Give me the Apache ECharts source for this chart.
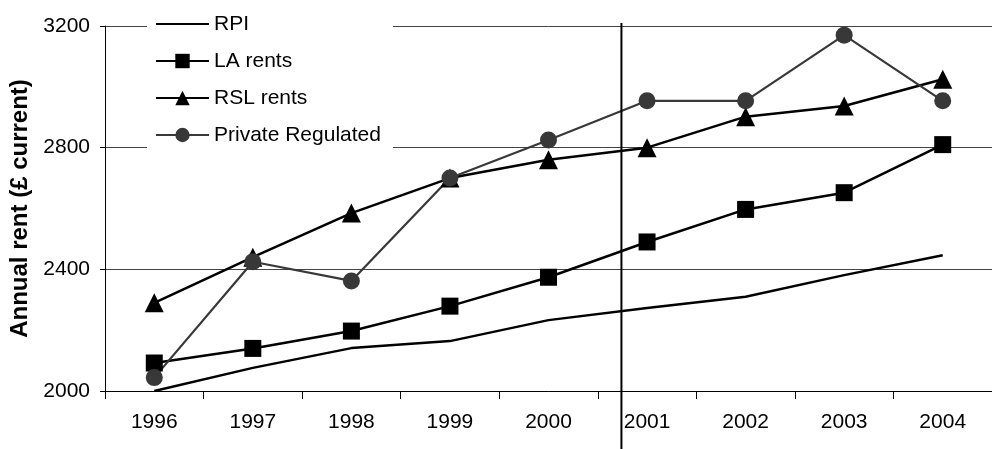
<!DOCTYPE html>
<html>
<head>
<meta charset="utf-8">
<script src="https://cdn.jsdelivr.net/npm/echarts@6/dist/echarts.min.js"></script>
<style>
  html, body { margin: 0; padding: 0; background: #fff; }
  #chart { width: 992px; height: 449px; }
</style>
</head>
<body>
<div id="chart"></div>
<script>
// Annual rents by sector versus RPI, 1996-2004 (£ current)
const years = ['1996', '1997', '1998', '1999', '2000', '2001', '2002', '2003', '2004'];
const rpi = [2000, 2076, 2141, 2164, 2233, 2273, 2310, 2381, 2446];
const laRents = [2092, 2140, 2197, 2279, 2374, 2490, 2597, 2652, 2810];
const rslRents = [2290, 2440, 2585, 2700, 2760, 2800, 2902, 2937, 3025];
const privateRegulated = [2044, 2425, 2362, 2700, 2825, 2954, 2954, 3170, 2954];
const yTicks = { min: 2000, max: 3200, step: 400 };
// position (in category widths from the left edge) of the vertical divider
const dividerPos = 5.24;

const font = '"Liberation Sans", Arial, sans-serif';
const chart = echarts.init(document.getElementById('chart'));

function lineSeries(name, data, symbol, color, width) {
  return {
    name: name,
    type: 'line',
    data: data,
    symbol: symbol,
    symbolSize: symbol === 'triangle' ? [19, 19] : 17,
    lineStyle: { color: color, width: width },
    itemStyle: { color: color },
    emphasis: { disabled: true },
    animation: false,
    z: 3
  };
}

chart.setOption({
  backgroundColor: '#fff',
  animation: false,
  grid: { left: 105, right: -9.4, top: 26, bottom: 58, containLabel: false },
  legend: {
    orient: 'vertical',
    left: 147,
    top: 6,
    padding: [6, 12, 12, 8],
    backgroundColor: '#fff',
    itemWidth: 53,
    itemHeight: 18,
    itemGap: 13,
    z: 10,
    textStyle: { fontFamily: font, fontSize: 21, color: '#000', lineHeight: 24 },
    data: [
      { name: 'RPI', itemStyle: { opacity: 0 } },
      'LA rents',
      'RSL rents',
      'Private Regulated'
    ]
  },
  xAxis: [{
    type: 'category',
    data: years,
    boundaryGap: true,
    axisLine: { lineStyle: { color: '#000', width: 1 } },
    axisTick: { show: true, length: 8, alignWithLabel: false, lineStyle: { color: '#000' } },
    axisLabel: { fontFamily: font, fontSize: 21, color: '#000', margin: 21 },
    splitLine: { show: false }
  }, {
    type: 'value',
    min: 0,
    max: years.length,
    show: false
  }],
  yAxis: {
    type: 'value',
    min: yTicks.min,
    max: yTicks.max,
    interval: yTicks.step,
    name: 'Annual rent (£ current)',
    nameLocation: 'middle',
    nameGap: 72,
    nameTextStyle: { fontFamily: font, fontSize: 24, fontWeight: 'bold', color: '#000' },
    axisLine: { show: true, lineStyle: { color: '#000', width: 1 } },
    axisTick: { show: true, length: 5, lineStyle: { color: '#000' } },
    axisLabel: {
      fontFamily: font, fontSize: 21, color: '#000', margin: 15,
      formatter: function (v) { return String(v); }
    },
    splitLine: { show: true, lineStyle: { color: '#444', width: 1 } }
  },
  series: [
    lineSeries('RPI', rpi, 'none', '#000', 2.5),
    lineSeries('LA rents', laRents, 'rect', '#000', 2.5),
    lineSeries('RSL rents', rslRents, 'triangle', '#000', 2.5),
    lineSeries('Private Regulated', privateRegulated, 'circle', '#383838', 2.2)
  ]
});

// vertical divider between 2000 and 2001, running below the axis
const dx = chart.convertToPixel({ xAxisIndex: 1 }, dividerPos);
const topY = chart.convertToPixel({ yAxisIndex: 0 }, yTicks.max) - 3;
chart.setOption({
  graphic: [{
    type: 'line',
    shape: { x1: dx, y1: topY, x2: dx, y2: chart.getHeight() },
    style: { stroke: '#000', lineWidth: 2 },
    z: 20
  }]
});
</script>
</body>
</html>
